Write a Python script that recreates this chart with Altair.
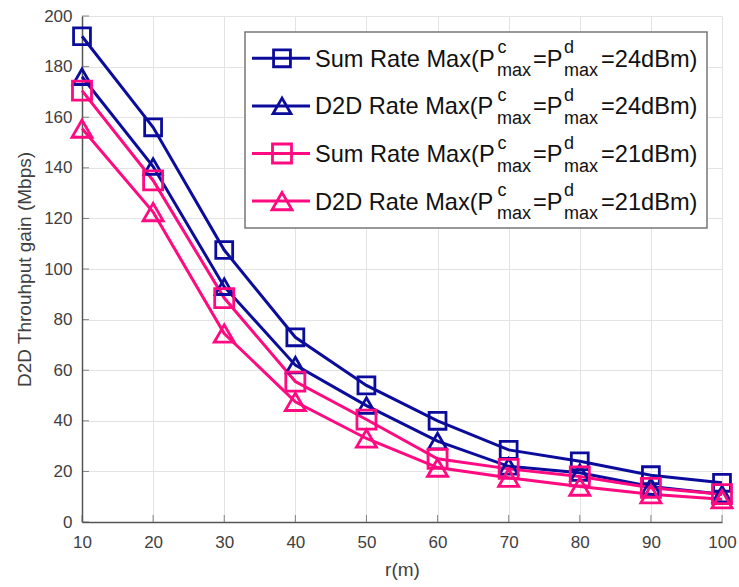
import altair as alt
import pandas as pd

# Distance r (m) and D2D throughput gain (Mbps) for each scheme
r_m = [10, 20, 30, 40, 50, 60, 70, 80, 90, 100]
sum_rate_24 = [192, 156, 107.5, 73, 54, 40, 28.5, 24, 18.5, 15.5]
d2d_rate_24 = [176, 140.5, 93, 62, 46, 32, 22, 19.5, 14, 11]
sum_rate_21 = [170.5, 135, 88.5, 55.5, 40.5, 25, 21, 18, 13.5, 11]
d2d_rate_21 = [155.5, 122.5, 74.5, 47.5, 33, 21.5, 17.5, 14, 11, 9]

scheme_names = ["Sum Rate Max", "D2D Rate Max", "Sum Rate Max", "D2D Rate Max"]
power_dbm = [24, 24, 21, 21]
y_ticks = [0, 20, 40, 60, 80, 100, 120, 140, 160, 180, 200]

# Styling
BLUE = "#0c0c9c"
PINK = "#ff0a80"
colors = [BLUE, BLUE, PINK, PINK]
markers = ["square", "triangle-up", "square", "triangle-up"]
marker_area = {"square": 285, "triangle-up": 400}
FONT = "Liberation Sans"
AXIS_COLOR = "#555555"
TEXT_COLOR = "#404040"

W, H = 640, 506

series_values = [sum_rate_24, d2d_rate_24, sum_rate_21, d2d_rate_21]
keys = [f"{n} {p}" for n, p in zip(scheme_names, power_dbm)]

rows = []
for k, vals in zip(keys, series_values):
    for r, v in zip(r_m, vals):
        rows.append({"r": r, "gain": v, "key": k})
df = pd.DataFrame(rows)

x_scale = alt.Scale(domain=[10, 100], nice=False)
y_scale = alt.Scale(domain=[0, 200], nice=False)

color_enc = alt.Color("key:N", scale=alt.Scale(domain=keys, range=colors), legend=None)
shape_enc = alt.Shape("key:N", scale=alt.Scale(domain=keys, range=markers), legend=None)
size_enc = alt.Size("key:N", scale=alt.Scale(domain=keys, range=[marker_area[m] for m in markers]), legend=None)

x_enc = alt.X(
    "r:Q", scale=x_scale,
    axis=alt.Axis(values=r_m, title="r(m)", ticks=False, labelPadding=12,
                  titlePadding=10, format="d", labelFlush=False,
                  labelFontSize=17, titleFontSize=19),
)
y_enc = alt.Y(
    "gain:Q", scale=y_scale,
    axis=alt.Axis(values=y_ticks, title="D2D Throuhput gain (Mbps)", ticks=False,
                  labelPadding=10, titlePadding=9, format="d", labelFlush=False,
                  labelFontSize=17, titleFontSize=19),
)

lines = alt.Chart(df).mark_line(strokeWidth=3).encode(
    x=x_enc, y=y_enc, color=color_enc, order=alt.Order("r:Q")
)
points = alt.Chart(df).mark_point(filled=False, strokeWidth=2.8, opacity=1).encode(
    x=alt.X("r:Q", scale=x_scale), y=alt.Y("gain:Q", scale=y_scale),
    color=color_enc, shape=shape_enc, size=size_enc,
)

# Inward tick marks on the bottom and left axes
x_tick_marks = alt.Chart(pd.DataFrame({"r": r_m})).mark_tick(
    color=AXIS_COLOR, thickness=1, size=7
).encode(x=alt.X("r:Q", scale=x_scale), y=alt.value(H - 3.5))
y_tick_marks = alt.Chart(pd.DataFrame({"gain": y_ticks})).mark_tick(
    color=AXIS_COLOR, thickness=1, size=7
).encode(y=alt.Y("gain:Q", scale=y_scale), x=alt.value(3.5))

plot_layers = alt.layer(lines, points, x_tick_marks, y_tick_marks)

# Legend box with stacked super/subscript labels (pixel layout)
LEG_X0, LEG_X1, LEG_Y0, LEG_Y1 = 163, 625, 16, 212
ROW_Y0, ROW_GAP = 42.3, 47.6
LINE_X0, LINE_X1, MARK_X = 170, 228, 200

legend_box = alt.Chart(pd.DataFrame({"a": [0]})).mark_rect(
    fill="white", stroke="#777777", strokeWidth=1.5
).encode(x=alt.value(LEG_X0), x2=alt.value(LEG_X1), y=alt.value(LEG_Y0), y2=alt.value(LEG_Y1))

leg_df = pd.DataFrame({"key": keys, "ly": [ROW_Y0 + i * ROW_GAP for i in range(len(keys))]})
leg_lines = alt.Chart(leg_df).mark_rule(strokeWidth=3).encode(
    x=alt.value(LINE_X0), x2=alt.value(LINE_X1),
    y=alt.Y("ly:Q", scale=None), color=color_enc,
)
leg_marks = alt.Chart(leg_df).mark_point(filled=False, strokeWidth=2.8, opacity=1).encode(
    x=alt.value(MARK_X), y=alt.Y("ly:Q", scale=None),
    color=color_enc, shape=shape_enc,
    size=alt.Size("key:N", scale=alt.Scale(domain=keys, range=[200, 300, 200, 300]), legend=None),
)

big, small = [], []
for i, (n, p) in enumerate(zip(scheme_names, power_dbm)):
    yc = ROW_Y0 + i * ROW_GAP
    big += [
        {"t": f"{n}(P", "px": 233, "py": yc + 8.5},
        {"t": "=P", "px": 451, "py": yc + 8.5},
        {"t": f"={p}dBm)", "px": 519, "py": yc + 8.5},
    ]
    small += [
        {"t": "c", "px": 415.5, "py": yc - 5},
        {"t": "max", "px": 415, "py": yc + 18},
        {"t": "d", "px": 482, "py": yc - 5},
        {"t": "max", "px": 482, "py": yc + 18},
    ]

leg_big = alt.Chart(pd.DataFrame(big)).mark_text(
    align="left", baseline="alphabetic", font=FONT, fontSize=23.6, color="#111111"
).encode(x=alt.X("px:Q", scale=None), y=alt.Y("py:Q", scale=None), text="t:N")
leg_small = alt.Chart(pd.DataFrame(small)).mark_text(
    align="left", baseline="alphabetic", font=FONT, fontSize=18, color="#111111"
).encode(x=alt.X("px:Q", scale=None), y=alt.Y("py:Q", scale=None), text="t:N")

legend_layers = alt.layer(legend_box, leg_lines, leg_marks, leg_big, leg_small)

chart = alt.layer(plot_layers, legend_layers).resolve_scale(
    x="independent", y="independent"
).properties(
    width=W, height=H,
    autosize=alt.AutoSizeParams(type="none"),
    padding={"left": 82, "top": 16, "right": 17, "bottom": 65},
    background="white",
).configure_view(
    stroke=None
).configure_axis(
    labelFont=FONT, titleFont=FONT,
    labelColor=TEXT_COLOR, titleColor=TEXT_COLOR, titleFontWeight="normal",
    domainColor=AXIS_COLOR, domainWidth=1.5,
    gridColor="#e3e3e3", gridWidth=1,
)

chart.save("out.html", embed_options={"renderer": "svg", "actions": False})
